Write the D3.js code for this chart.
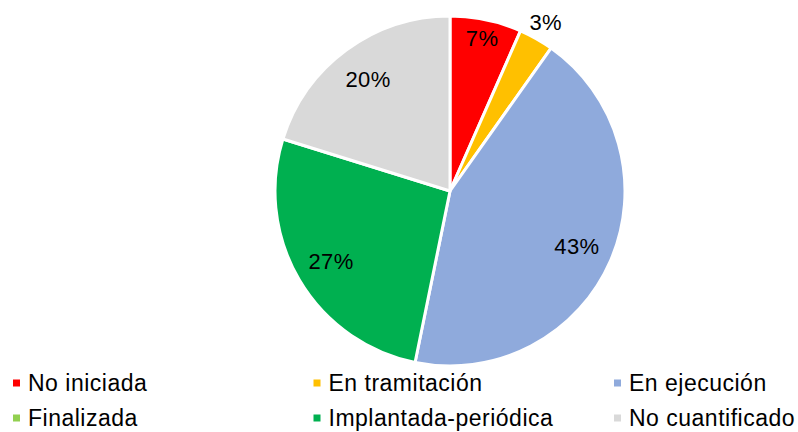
<!DOCTYPE html>
<html>
<head>
<meta charset="utf-8">
<script src="https://cdn.jsdelivr.net/npm/d3@7/dist/d3.min.js"></script>
<style>
  body { margin: 0; background: #fff; }
  svg { display: block; font-family: "Liberation Sans", Arial, sans-serif; }
</style>
</head>
<body>
<svg id="chart" width="798" height="432"></svg>
<script>
const categories = ['No iniciada', 'En tramitación', 'En ejecución', 'Finalizada', 'Implantada-periódica', 'No cuantificado']
const values = [6.6, 3.2, 43.4, 0, 26.6, 20.2]
const colors = ['#ff0000', '#ffc000', '#8faadc', '#92d050', '#00b050', '#d9d9d9']

const width = 798
const height = 432
const cx = 450
const cy = 191
const radius = 175

const svg = d3.select('#chart')
const total = d3.sum(values)

const pie = d3.pie().sort(null).value(d => d.value)
const arcs = pie(categories.map((c, i) => ({ name: c, value: values[i], color: colors[i] })))

const arc = d3.arc().innerRadius(0).outerRadius(radius)

const g = svg.append('g').attr('transform', `translate(${cx},${cy})`)

g.selectAll('path')
  .data(arcs.filter(d => d.data.value > 0))
  .join('path')
  .attr('d', arc)
  .attr('fill', d => d.data.color)
  .attr('stroke', '#fff')
  .attr('stroke-width', 3)
  .attr('stroke-linejoin', 'round')

// label distance depends on slice size (small ones pushed out)
function labelRadius(d) {
  const pct = d.data.value / total * 100
  if (pct < 5) return radius * 1.11
  if (pct < 10) return radius * 0.89
  return radius * 0.79
}

g.selectAll('text.pct')
  .data(arcs.filter(d => d.data.value > 0))
  .join('text')
  .attr('class', 'pct')
  .attr('transform', d => {
    const a = (d.startAngle + d.endAngle) / 2
    const r = labelRadius(d)
    return `translate(${Math.sin(a) * r},${-Math.cos(a) * r})`
  })
  .attr('text-anchor', 'middle')
  .attr('dy', '0.35em')
  .attr('font-size', 22)
  .attr('letter-spacing', 0.4)
  .attr('fill', '#000')
  .text(d => `${Math.round(d.data.value / total * 100)}%`)

// legend, 3 columns x 2 rows
const colX = d3.scalePoint().domain([0, 1, 2]).range([13, 614])
const rowY = d3.scalePoint().domain([0, 1]).range([383, 418])

const legend = svg.append('g')
  .selectAll('g')
  .data(categories.map((c, i) => ({ name: c, color: colors[i], i })))
  .join('g')
  .attr('transform', d => `translate(${colX(d.i % 3)},${rowY(Math.floor(d.i / 3))})`)

legend.append('rect')
  .attr('x', 0)
  .attr('y', -3.5)
  .attr('width', 7)
  .attr('height', 7)
  .attr('fill', d => d.color)

legend.append('text')
  .attr('x', 15)
  .attr('dy', '0.35em')
  .attr('font-size', 23)
  .attr('letter-spacing', 0.5)
  .attr('fill', '#000')
  .text(d => d.name)
</script>
</body>
</html>
